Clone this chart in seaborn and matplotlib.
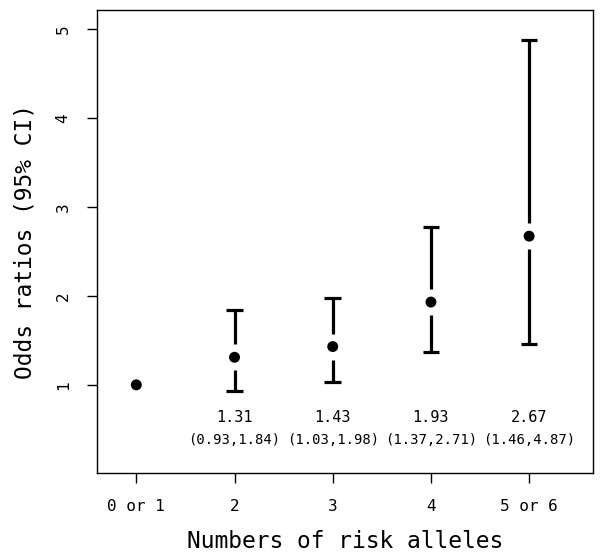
import matplotlib
matplotlib.use("Agg")
import matplotlib.pyplot as plt
import seaborn as sns
import pandas as pd

# values
groups = ["0 or 1", "2", "3", "4", "5 or 6"]
odds = [1.00, 1.31, 1.43, 1.93, 2.67]
ci_low = [None, 0.93, 1.03, 1.37, 1.46]
ci_high = [None, 1.84, 1.98, 2.77, 4.87]
labels_or = ["", "1.31", "1.43", "1.93", "2.67"]
labels_ci = ["", "(0.93,1.84)", "(1.03,1.98)", "(1.37,2.71)", "(1.46,4.87)"]

sns.set_style("white")
plt.rcParams["font.family"] = ["DejaVu Sans Mono", "DejaVu Sans"]
plt.rcParams["text.color"] = "black"
plt.rcParams["axes.labelcolor"] = "black"
plt.rcParams["xtick.color"] = "black"
plt.rcParams["ytick.color"] = "black"

df = pd.DataFrame({"pos": range(1, len(groups) + 1), "odds": odds})

fig = plt.figure(figsize=(6, 5.55), dpi=100)
ax = fig.add_axes([0.1617, 0.1477, 0.8266, 0.8343])

gap = 0.146  # break in the bar around the point
for x, y, lo, hi in zip(df["pos"], df["odds"], ci_low, ci_high):
    if lo is None:
        continue
    ax.plot([x, x], [lo, y - gap], color="black", lw=2.3, solid_capstyle="butt")
    ax.plot([x, x], [y + gap, hi], color="black", lw=2.3, solid_capstyle="butt")
    ax.plot([x - 0.085, x + 0.085], [lo, lo], color="black", lw=2.3, solid_capstyle="butt")
    ax.plot([x - 0.085, x + 0.085], [hi, hi], color="black", lw=2.3, solid_capstyle="butt")

sns.scatterplot(data=df, x="pos", y="odds", ax=ax, color="black", s=62,
                edgecolor="none", zorder=3)

for x, a, b in zip(df["pos"], labels_or, labels_ci):
    ax.text(x, 0.63, a, ha="center", va="center", fontsize=11)
    ax.text(x, 0.38, b, ha="center", va="center", fontsize=10)

ax.set_xlim(0.6, 5.65)
ax.set_ylim(0.01, 5.21)
ax.set_xticks(df["pos"])
ax.set_xticklabels(groups, fontsize=11.5)
ax.set_yticks([1, 2, 3, 4, 5])
ax.set_yticklabels(["1", "2", "3", "4", "5"], fontsize=11.5, rotation=90, va="center")
ax.tick_params(axis="both", direction="out", length=7, width=1, color="black",
               bottom=True, left=True, pad=12)
for s in ax.spines.values():
    s.set_color("black")
    s.set_linewidth(1)

ax.set_xlabel("Numbers of risk alleles", fontsize=16.5, labelpad=11)
ax.set_ylabel("Odds ratios (95% CI)", fontsize=16.5, labelpad=14)

fig.savefig("out.png", dpi=100)
plt.close(fig)
